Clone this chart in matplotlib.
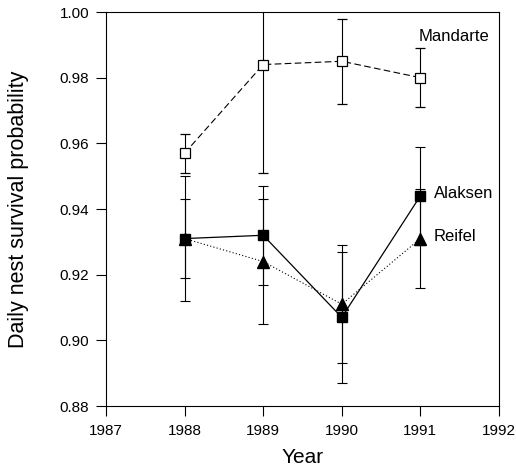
import matplotlib
matplotlib.use('Agg')
import matplotlib.pyplot as plt

plt.rcParams['font.family'] = ['Liberation Sans', 'DejaVu Sans']

years = [1988, 1989, 1990, 1991]

mandarte = [0.957, 0.984, 0.985, 0.980]
mandarte_err = [0.006, 0.033, 0.013, 0.009]

alaksen = [0.931, 0.932, 0.907, 0.944]
alaksen_err = [0.019, 0.015, 0.020, 0.015]

reifel = [0.931, 0.924, 0.911, 0.931]
reifel_err = [0.012, 0.019, 0.018, 0.015]

xticks = [1987, 1988, 1989, 1990, 1991, 1992]
yticks = [0.88, 0.90, 0.92, 0.94, 0.96, 0.98, 1.00]

fig = plt.figure(figsize=(5.16, 4.73), dpi=100)
ax = fig.add_axes([0.2054, 0.1416, 0.7616, 0.833])

ax.errorbar(years, mandarte, yerr=mandarte_err, color='black', linestyle=(0, (6, 3)),
            linewidth=0.8, marker='s', markersize=7, markerfacecolor='white',
            markeredgecolor='black', markeredgewidth=0.9, capsize=3.5, elinewidth=0.8,
            capthick=0.8, zorder=3)
ax.errorbar(years, reifel, yerr=reifel_err, color='black', linestyle=(0, (1, 2)),
            linewidth=0.8, marker='^', markersize=8, markerfacecolor='black',
            capsize=3.5, elinewidth=0.8, capthick=0.8, zorder=3)
ax.errorbar(years, alaksen, yerr=alaksen_err, color='black', linestyle='-',
            linewidth=0.9, marker='s', markersize=7, markerfacecolor='black',
            capsize=3.5, elinewidth=0.8, capthick=0.8, zorder=4)

ax.text(1991.43, 0.9925, 'Mandarte', ha='center', va='center', fontsize=12)
ax.text(1991.17, 0.9446, 'Alaksen', ha='left', va='center', fontsize=12)
ax.text(1991.17, 0.9315, 'Reifel', ha='left', va='center', fontsize=12)

ax.set_xlim(1987, 1992)
ax.set_ylim(0.88, 1.00)
ax.set_xticks(xticks)
ax.set_yticks(yticks)
ax.set_yticklabels(['%.2f' % v for v in yticks])
ax.tick_params(direction='out', length=7, width=0.8, labelsize=11, pad=5)
ax.tick_params(axis='x', pad=6)
for s in ax.spines.values():
    s.set_linewidth(0.8)

ax.set_xlabel('Year', fontsize=15, labelpad=7)
ax.set_ylabel('Daily nest survival probability', fontsize=15.5, labelpad=22)

fig.savefig('out.png', dpi=100)
